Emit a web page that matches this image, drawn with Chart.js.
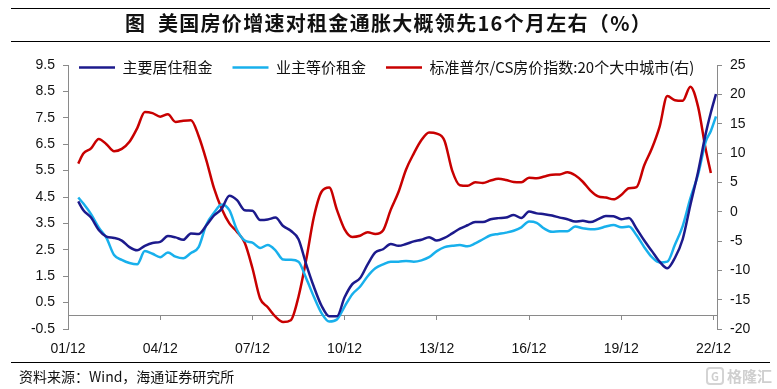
<!DOCTYPE html>
<html>
<head>
<meta charset="utf-8">
<script src="https://cdn.jsdelivr.net/npm/chart.js@4/dist/chart.umd.min.js"></script>
<style>
html,body{margin:0;padding:0;background:#fff;}
#wrap{position:relative;width:777px;height:389px;overflow:hidden;background:#fff;}
#cv{position:absolute;left:0;top:0;}
.rule{position:absolute;left:11px;width:759px;height:0;border-top:1px solid #000;}
#title{position:absolute;left:0;top:8px;width:777px;text-align:center;white-space:pre;
  font-family:"Noto Sans CJK SC";font-weight:bold;font-size:20px;letter-spacing:1.3px;line-height:30px;color:#111;}
#src{position:absolute;left:19px;top:366px;font-family:"Noto Sans CJK SC";font-size:14px;line-height:20px;color:#111;white-space:pre;}
#wm{position:absolute;left:706px;top:366px;font-family:"Noto Sans CJK SC";font-size:15px;line-height:20px;color:#cfcfcf;font-weight:bold;}
#wm span{display:inline-block;border:2px solid #d4d4d4;border-radius:4px;width:14px;height:14px;line-height:14px;text-align:center;font-size:11px;margin-right:3px;vertical-align:1px;}
</style>
</head>
<body>
<div id="wrap">
  <canvas id="cv" width="777" height="389"></canvas>
  <div class="rule" style="top:8px"></div>
  <div id="title">图  美国房价增速对租金通胀大概领先16个月左右（%）</div>
  <div class="rule" style="top:41px"></div>
  <div class="rule" style="top:362px"></div>
  <div id="src">资料来源：Wind，海通证券研究所</div>
  <div id="wm"><span>G</span>格隆汇</div>
</div>
<script>
// month index counted from 2001/12 (0) to 2022/12 (252)
const months = [4,6,9,12,15,18,21,24,27,30,33,36,39,42,45,48,51,54,57,60,63,66,69,72,75,78,81,84,87,90,93,96,99,102,105,108,111,114,117,120,123,126,129,132,135,138,141,144,147,150,153,156,159,162,165,168,171,174,177,180,183,186,189,192,195,198,201,204,207,210,213,216,219,222,225,228,231,234,237,240,243,246,249,251,253];

// 主要居住租金 (left axis, %)
const primaryRent = [4.33,4.0,3.72,3.25,3.0,2.95,2.85,2.6,2.48,2.65,2.76,2.8,3.02,2.97,2.88,3.12,3.1,3.42,3.8,4.05,4.55,4.38,4.0,3.98,3.63,3.65,3.72,3.4,3.22,2.9,1.95,1.1,0.38,-0.02,-0.02,0.7,1.2,1.42,1.95,2.4,2.52,2.72,2.65,2.72,2.82,2.88,2.98,2.85,2.95,3.12,3.3,3.43,3.55,3.55,3.66,3.7,3.72,3.82,3.7,3.95,3.88,3.85,3.8,3.72,3.66,3.57,3.6,3.55,3.66,3.78,3.77,3.66,3.7,3.3,2.85,2.45,2.05,1.8,2.2,2.9,4.2,5.45,6.9,7.7,8.4];

// 业主等价租金 (left axis, %)
const oerRent = [4.48,4.25,3.85,3.35,2.95,2.3,2.12,2.0,1.95,2.45,2.35,2.22,2.4,2.24,2.18,2.38,2.6,3.45,3.9,4.22,4.0,3.25,2.85,2.77,2.57,2.68,2.48,2.13,2.12,2.05,1.42,0.72,0.1,-0.22,-0.14,0.35,0.82,1.1,1.5,1.8,1.95,2.05,2.05,2.08,2.05,2.1,2.22,2.45,2.6,2.65,2.68,2.63,2.74,2.9,3.05,3.1,3.15,3.22,3.35,3.57,3.52,3.3,3.18,3.2,3.2,3.38,3.32,3.28,3.3,3.38,3.44,3.35,3.38,3.05,2.6,2.22,2.02,2.05,2.7,3.4,4.45,5.35,6.6,7.0,7.55];

// 标准普尔/CS房价指数:20个大中城市 (right axis, %)
const csIndex = [8.2,9.9,10.8,12.4,11.5,10.3,10.7,11.9,14.2,17.0,16.8,16.2,16.6,15.3,15.5,15.6,12.9,8.8,4.0,0.5,-2.0,-3.45,-5.3,-9.6,-14.8,-16.3,-17.9,-18.8,-18.5,-14.5,-8.2,-0.9,3.4,4.1,0.3,-3.0,-4.3,-4.1,-3.5,-3.8,-3.2,0.3,3.3,7.2,9.9,12.2,13.5,13.3,12.1,7.0,4.5,4.4,5.0,4.9,5.3,5.6,5.4,5.05,5.0,5.8,5.7,6.0,6.3,6.35,6.7,6.2,5.1,3.6,2.6,2.4,2.1,2.85,4.0,4.2,7.9,10.8,14.5,19.7,19.0,18.9,21.3,17.9,10.6,6.6,null];

const xTickLabels = ['01/12','04/12','07/12','10/12','13/12','16/12','19/12','22/12'];
const xTickStep = 36;
const xMax = 253.4;

const toPoints = arr => months.map((m, i) => ({x: m, y: arr[i]}));

const NAVY = '#1c1a8c', SKY = '#18b0ec', RED = '#c80000', AXIS = '#8a8a8a';
const LW = 2.5;
const numFont = {family: '"Liberation Sans", Arial, sans-serif', size: 14};
const cjkFont = {family: '"Noto Sans CJK SC", sans-serif', size: 15};

const setXTicks = scale => { scale.ticks = xTickLabels.map((_, i) => ({value: i * xTickStep})); };

// place the (horizontal, one-row) legend inside the top of the plot area
const legendPlace = {
  id: 'legendPlace',
  afterLayout(chart) {
    const lg = chart.legend;
    if (!lg) return;
    lg.left = 59; lg.right = 777; lg.width = 718;
    lg.top = 40; lg.bottom = 95; lg.height = 55;
  }
};

const ds = (label, arr, color, axis) => ({
  label, data: toPoints(arr), borderColor: color, backgroundColor: color,
  pointBorderColor: color, pointBackgroundColor: color, pointBorderWidth: LW,
  borderWidth: LW, yAxisID: axis, xAxisID: 'x'
});

new Chart(document.getElementById('cv'), {
  type: 'line',
  data: {
    datasets: [
      ds('主要居住租金', primaryRent, NAVY, 'y'),
      ds('业主等价租金', oerRent, SKY, 'y'),
      ds('标准普尔/CS房价指数:20个大中城市(右)', csIndex, RED, 'y1')
    ]
  },
  options: {
    responsive: false,
    animation: false,
    devicePixelRatio: 1,
    layout: {padding: {top: 64, left: 0, right: 0, bottom: 0}},
    elements: {
      line: {cubicInterpolationMode: 'monotone', fill: false},
      point: {radius: 0, hoverRadius: 0}
    },
    plugins: {
      tooltip: {enabled: false},
      title: {display: false},
      legend: {
        position: 'top',
        align: 'start',
        maxHeight: 1,
        labels: {
          usePointStyle: true,
          pointStyle: 'line',
          pointStyleWidth: 36,
          padding: 20,
          color: '#111',
          font: cjkFont
        }
      }
    },
    scales: {
      x: {
        type: 'linear', position: 'bottom', min: 0, max: xMax,
        afterBuildTicks: setXTicks,
        afterFit: s => { s.height = 60; },
        grid: {display: false},
        border: {display: false},
        ticks: {autoSkip: false, maxRotation: 0, padding: 4, color: '#111', font: numFont,
          callback: v => xTickLabels[Math.round(v / xTickStep)]}
      },
      x2: {
        type: 'linear', position: {y: 0}, min: 0, max: xMax,
        afterBuildTicks: setXTicks,
        grid: {drawOnChartArea: false, tickLength: 4, color: AXIS},
        border: {color: AXIS, width: 1},
        ticks: {display: false}
      },
      y: {
        position: 'left', min: -0.5, max: 9.5,
        afterFit: s => { s.width = 68; },
        grid: {drawOnChartArea: false, tickLength: 5, color: AXIS},
        border: {color: AXIS},
        ticks: {stepSize: 1, padding: 8, color: '#111', font: numFont, callback: v => Number(v).toFixed(1)}
      },
      y1: {
        position: 'right', min: -20, max: 25,
        afterFit: s => { s.width = 60; },
        grid: {drawOnChartArea: false, tickLength: 5, color: AXIS},
        border: {color: AXIS},
        ticks: {stepSize: 5, padding: 8, color: '#111', font: numFont}
      }
    }
  },
  plugins: [legendPlace]
});
</script>
</body>
</html>
